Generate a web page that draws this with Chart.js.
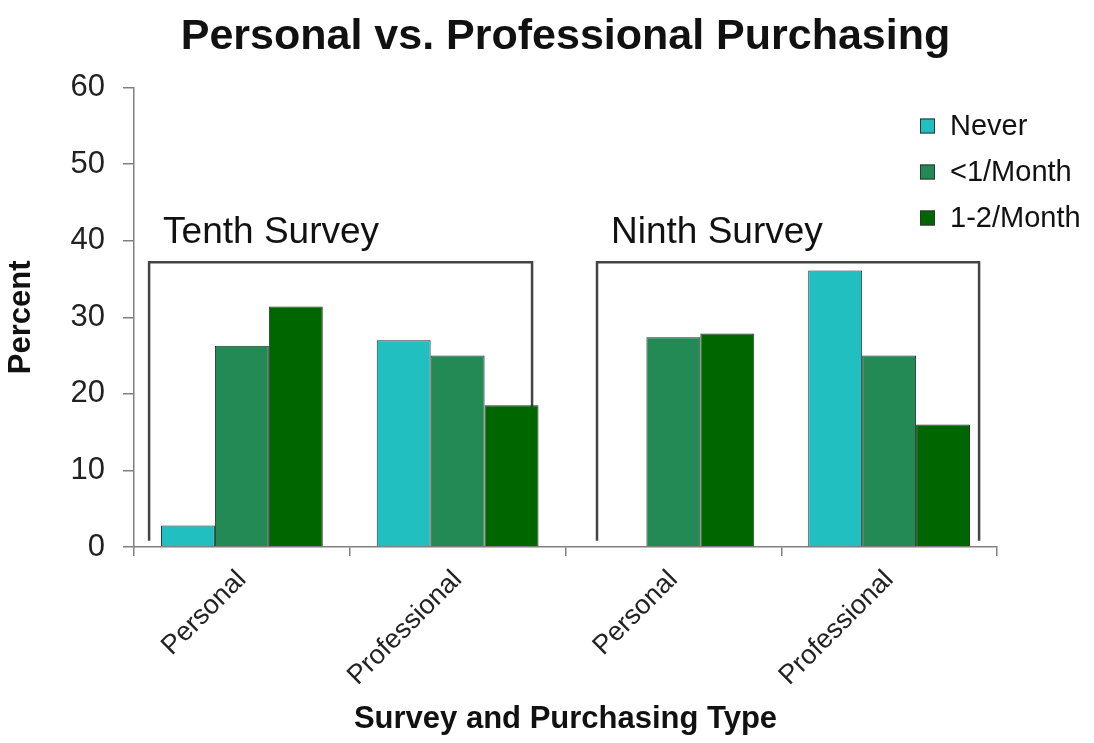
<!DOCTYPE html>
<html>
<head>
<meta charset="utf-8">
<title>Personal vs. Professional Purchasing</title>
<script src="https://cdn.jsdelivr.net/npm/chart.js@4.4.1/dist/chart.umd.min.js"></script>
<style>
  html, body { margin: 0; padding: 0; background: #ffffff; }
  #wrap { width: 1094px; height: 743px; }
</style>
</head>
<body>
<div id="wrap"><canvas id="chart" width="1094" height="743"></canvas></div>
<script>
// Category labels along the x axis (two surveys, two purchasing types each)
const categories = ['Personal', 'Professional', 'Personal', 'Professional'];

// Series names
const seriesNames = ['Never', '<1/Month', '1-2/Month'];

// Percent of respondents per category
const never         = [2.8, 27.0, 0, 36.1];
const lessMonthly   = [26.3, 25.0, 27.4, 25.0];
const oneTwoMonthly = [31.4, 18.5, 27.9, 16.0];

// Y axis ticks
const yTicks = [0, 10, 20, 30, 40, 50, 60];

// Survey group labels
const surveyLabels = ['Tenth Survey', 'Ninth Survey'];

const FONT = "'Liberation Sans', Arial, Helvetica, sans-serif";
const colors = ['#21bfbf', '#238a55', '#006600'];

// Bracket geometry for the survey groups (in category-index / value units)
const bracketSpans = [[-0.43, 1.345], [1.646, 3.417]];
const bracketTop = 37.2;
const bracketBottom = 0.8;

const bracketPlugin = {
  id: 'surveyBrackets',
  beforeDatasetsDraw(chart) {
    const { ctx, scales: { x, y } } = chart;
    ctx.save();
    ctx.strokeStyle = '#444444';
    ctx.lineWidth = 2.5;
    ctx.lineJoin = 'miter';
    const top = y.getPixelForValue(bracketTop);
    const bottom = y.getPixelForValue(bracketBottom);
    bracketSpans.forEach((span, i) => {
      const l = x.getPixelForValue(span[0]);
      const r = x.getPixelForValue(span[1]);
      ctx.beginPath();
      ctx.moveTo(l, bottom);
      ctx.lineTo(l, top);
      ctx.lineTo(r, top);
      ctx.lineTo(r, bottom);
      ctx.stroke();
      ctx.fillStyle = '#111111';
      ctx.font = '37px ' + FONT;
      ctx.textAlign = 'left';
      ctx.textBaseline = 'alphabetic';
      ctx.fillText(surveyLabels[i], l + 14, top - 19);
    });
    ctx.restore();
  }
};

const legendPlugin = {
  id: 'sideLegend',
  afterDraw(chart) {
    const { ctx } = chart;
    ctx.save();
    ctx.font = '29px ' + FONT;
    ctx.textAlign = 'left';
    ctx.textBaseline = 'middle';
    chart.data.datasets.forEach((ds, i) => {
      const cy = 126 + i * 46;
      ctx.fillStyle = ds.backgroundColor;
      ctx.fillRect(920, cy - 7.5, 15, 15);
      ctx.strokeStyle = '#333333';
      ctx.lineWidth = 1;
      ctx.strokeRect(920.5, cy - 7, 14, 14);
      ctx.fillStyle = '#111111';
      ctx.fillText(ds.label, 950, cy + 1);
    });
    ctx.restore();
  }
};

const seriesData = [never, lessMonthly, oneTwoMonthly];

new Chart(document.getElementById('chart'), {
  type: 'bar',
  data: {
    labels: categories,
    datasets: seriesNames.map((name, i) => ({
      label: name,
      data: seriesData[i],
      backgroundColor: colors[i],
      borderColor: '#1f3328',
      borderWidth: (c) => (c.raw === 0 ? 0 : 1),
      borderSkipped: 'start',
      categoryPercentage: 0.75,
      barPercentage: 1.0
    }))
  },
  options: {
    responsive: false,
    animation: false,
    devicePixelRatio: 1,
    layout: { padding: { left: 0, right: 97, top: 0, bottom: 0 } },
    plugins: {
      legend: { display: false },
      tooltip: { enabled: false },
      title: {
        display: true,
        fullSize: false,
        text: 'Personal vs. Professional Purchasing',
        color: '#111111',
        font: { family: FONT, size: 43, weight: 'bold', lineHeight: 1.2 },
        padding: { top: 11, bottom: 25 }
      }
    },
    scales: {
      x: {
        grid: {
          display: true,
          drawOnChartArea: false,
          offset: true,
          tickLength: 9,
          color: '#808080',
          lineWidth: 1.5
        },
        border: { display: true, color: '#808080', width: 1.5 },
        ticks: {
          color: '#222222',
          font: { family: FONT, size: 27 },
          minRotation: 45,
          maxRotation: 45,
          padding: 8,
          autoSkip: false
        },
        title: {
          display: true,
          text: 'Survey and Purchasing Type',
          color: '#111111',
          font: { family: FONT, size: 31, weight: 'bold', lineHeight: 1.2 },
          padding: { top: 0, bottom: 5 }
        },
        afterFit(scale) { scale.height = 196; }
      },
      y: {
        min: 0,
        max: 60,
        afterBuildTicks(scale) { scale.ticks = yTicks.map(v => ({ value: v })); },
        grid: {
          display: true,
          drawOnChartArea: false,
          tickLength: 11,
          color: '#808080',
          lineWidth: 1.5
        },
        border: { display: true, color: '#808080', width: 1.5 },
        ticks: {
          color: '#222222',
          font: { family: FONT, size: 31 },
          padding: 18
        },
        title: {
          display: true,
          text: 'Percent',
          color: '#111111',
          font: { family: FONT, size: 31, weight: 'bold', lineHeight: 1.2 },
          padding: { top: 3, bottom: 0 }
        },
        afterFit(scale) { scale.width = 134; }
      }
    }
  },
  plugins: [bracketPlugin, legendPlugin]
});
</script>
</body>
</html>
